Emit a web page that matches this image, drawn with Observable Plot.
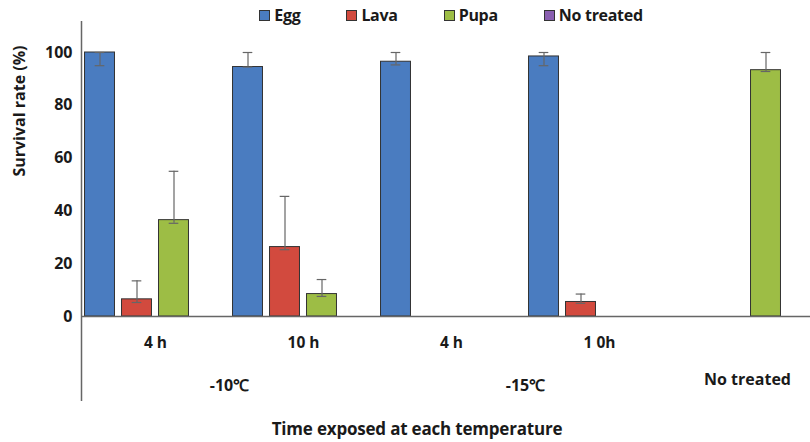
<!DOCTYPE html>
<html><head><meta charset="utf-8">
<script src="https://cdn.jsdelivr.net/npm/d3@7"></script>
<script src="https://cdn.jsdelivr.net/npm/@observablehq/plot@0.6"></script>
<style>
body{margin:0;background:#fff;}
#wrap{position:relative;width:810px;height:442px;overflow:hidden;font-family:"Open Sans",Lato,sans-serif;}
#legend{position:absolute;top:4px;left:81px;width:740px;display:flex;justify-content:center;gap:46px;font-weight:bold;font-size:16px;color:#1a1a1a;line-height:22px;letter-spacing:-0.3px}
.item{display:flex;align-items:center;gap:4px}
.sw{width:9px;height:9px;border:1px solid #333}
#xtitle{position:absolute;top:417px;left:0;width:834px;text-align:center;font-weight:bold;font-size:17px;color:#1a1a1a;letter-spacing:-0.2px}
svg text{font-family:"Open Sans",Lato,sans-serif;}
</style></head><body><div id="wrap"><div id="legend"></div><div id="xtitle">Time exposed at each temperature</div></div>
<script>
const series = ["Egg", "Lava", "Pupa", "No treated"];
const colors = ["#4a7cc0", "#d24a3e", "#9dbd45", "#8a5fb0"];
const temps = ["-10℃", "-15℃", "No treated"];
const times = ["4 h", "10 h", "4 h", "1 0h", ""];
const timeTemp = [0, 0, 1, 1, 2];
const egg   = [100, 94.5, 96.5, 98.5, null];
const lava  = [6.5, 26.3, null, 5.5, null];
const pupa  = [36.5, 8.5, null, null, 93.3];
const noTreated = [null, null, null, null, null];
const eggHi  = [100, 100, 100, 100, null];
const eggLo  = [95, 94.5, 95.3, 95, null];
const lavaHi = [13.5, 45.5, null, 8.5, null];
const lavaLo = [5.3, 25.3, null, 5, null];
const pupaHi = [55, 14, null, null, 100];
const pupaLo = [35.3, 7.6, null, null, 92.8];
const noHi = [null, null, null, null, null];
const noLo = [null, null, null, null, null];
const yTicks = [0, 20, 40, 60, 80, 100];
const yTitle = "Survival rate (%)";

const vals = [egg, lava, pupa, noTreated];
const his = [eggHi, lavaHi, pupaHi, noHi];
const los = [eggLo, lavaLo, pupaLo, noLo];
const nS = series.length;
const barHalf = 0.405, capHalf = 0.13;

const rows = [];
times.forEach((t, i) => series.forEach((s, j) => {
  rows.push({slot: i, series: s, color: colors[j], pos: i * nS + j + 0.5, value: vals[j][i], hi: his[j][i], lo: los[j][i]});
}));
const bars = rows.filter(d => d.value != null);
const errs = rows.filter(d => d.hi != null);
const timeLabels = times.map((t, i) => ({label: t, x: i * nS + nS / 2})).filter(d => d.label);
const tempLabels = temps.map((t, k) => {
  const slots = timeTemp.map((v, i) => v === k ? i : -1).filter(i => i >= 0);
  return {label: t, x: d3.mean(slots, i => i * nS + nS / 2), start: d3.min(slots) * nS, noTime: slots.every(i => !times[i])};
});
const dividers = tempLabels.map(d => d.start).filter(v => v > 0);

const chart = Plot.plot({
  width: 810, height: 442,
  marginLeft: 81, marginRight: 0, marginTop: 21, marginBottom: 41,
  x: {domain: [0, times.length * nS], range: [81, 81 + times.length * nS * 37], axis: null},
  y: {domain: [0, 100], range: [316, 52]},
  style: {fontFamily: "'Open Sans', Lato, sans-serif", color: "#1a1a1a"},
  marks: [
    Plot.axisY({ticks: yTicks, tickSize: 0, tickPadding: 9, fontSize: 16, fontWeight: "bold", label: null}),
    Plot.text([yTitle], {text: d => d, frameAnchor: "left", y: d3.mean(yTicks) + 3, rotate: -90, dx: -62,
      fontSize: 16, fontWeight: "bold", fill: "#1a1a1a"}),
    Plot.rectY(bars, {x1: d => d.pos - barHalf, x2: d => d.pos + barHalf, y1: 0, y2: "value", fill: "color", stroke: "#333", strokeWidth: 1}),
    Plot.ruleX(errs, {x: "pos", y1: "lo", y2: "hi", stroke: "#666", strokeWidth: 1.2}),
    Plot.ruleY(errs, {y: "hi", x1: d => d.pos - capHalf, x2: d => d.pos + capHalf, stroke: "#666", strokeWidth: 1.2}),
    Plot.ruleY(errs, {y: "lo", x1: d => d.pos - capHalf, x2: d => d.pos + capHalf, stroke: "#666", strokeWidth: 1.2}),
    Plot.ruleY([0], {stroke: "#666", strokeWidth: 1.5}),
    Plot.ruleX([0], {stroke: "#666", strokeWidth: 1.5}),
    Plot.ruleX(dividers, {x: d => d, y1: 0, stroke: "#666", strokeWidth: 1.5}),
    Plot.text(timeLabels, {x: "x", y: 0, text: "label", dy: 27, fontSize: 15.5, fontWeight: "bold", fill: "#1a1a1a"}),
    Plot.text(tempLabels, {x: "x", y: 0, text: "label", fontSize: 16, fontWeight: "bold", fill: "#1a1a1a",
      filter: d => !d.noTime, dy: 69}),
    Plot.text(tempLabels, {x: "x", y: 0, text: "label", fontSize: 16, fontWeight: "bold", fill: "#1a1a1a",
      filter: d => d.noTime, dy: 63})
  ]
});
document.getElementById("wrap").prepend(chart);

const lg = document.getElementById("legend");
series.forEach((s, j) => {
  const it = document.createElement("div"); it.className = "item";
  const sw = document.createElement("span"); sw.className = "sw"; sw.style.background = colors[j];
  const tx = document.createElement("span"); tx.textContent = s;
  it.append(sw, tx); lg.append(it);
});
</script></body></html>
